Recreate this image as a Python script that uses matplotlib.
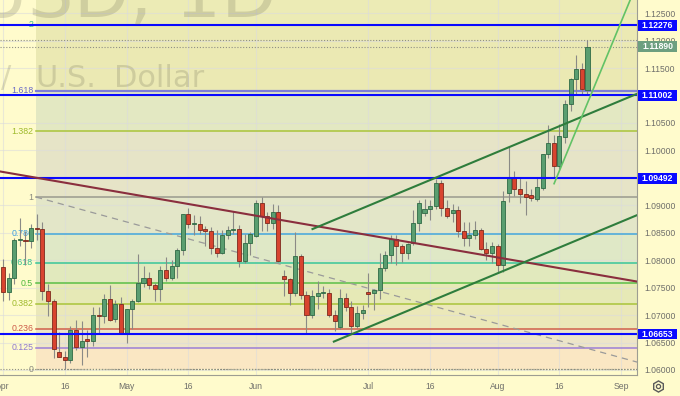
import numpy as np
import pandas as pd
import matplotlib
matplotlib.use('Agg')
import matplotlib.pyplot as plt
from matplotlib.patches import Rectangle
from matplotlib.lines import Line2D
from matplotlib.transforms import blended_transform_factory

plt.rcParams['font.family'] = ['Liberation Sans', 'DejaVu Sans']

# ---------------- data ----------------
dates = pd.bdate_range('2024-04-01', '2024-08-23')

opens = [1.0787, 1.0742, 1.0768, 1.0836, 1.0837, 1.0835, 1.0859, 1.0857, 1.0743, 1.0725,
         1.0633, 1.0624, 1.0618, 1.0672, 1.0642, 1.0656, 1.0653, 1.0701, 1.0698, 1.0729,
         1.0692, 1.0721, 1.0666, 1.0711, 1.0726, 1.0758, 1.0768, 1.0754, 1.0747, 1.0783,
         1.0767, 1.0789, 1.0819, 1.0884, 1.0866, 1.0866, 1.0856, 1.0853, 1.0822, 1.0814,
         1.0845, 1.0855, 1.0856, 1.0799, 1.0831, 1.0844, 1.0904, 1.0880, 1.0867, 1.0887,
         1.0772, 1.0765, 1.0740, 1.0808, 1.0737, 1.0700, 1.0734, 1.0740, 1.0741, 1.0701,
         1.0679, 1.0732, 1.0714, 1.0680, 1.0703, 1.0742, 1.0740, 1.0746, 1.0785, 1.0809,
         1.0838, 1.0825, 1.0813, 1.0831, 1.0867, 1.0886, 1.0893, 1.0898, 1.0940, 1.0895,
         1.0886, 1.0891, 1.0854, 1.0840, 1.0845, 1.0855, 1.0820, 1.0814, 1.0826, 1.0791,
         1.0922, 1.0951, 1.0929, 1.0921, 1.0919, 1.0911, 1.0931, 1.0993, 1.1013, 1.0972,
         1.1024, 1.1085, 1.1130, 1.1148, 1.1110]
highs = [1.0803, 1.0777, 1.0840, 1.0877, 1.0853, 1.0866, 1.0885, 1.0870, 1.0756, 1.0730,
         1.0669, 1.0634, 1.0680, 1.0691, 1.0690, 1.0673, 1.0714, 1.0715, 1.0738, 1.0755,
         1.0727, 1.0733, 1.0712, 1.0730, 1.0812, 1.0790, 1.0779, 1.0759, 1.0790, 1.0805,
         1.0800, 1.0822, 1.0885, 1.0895, 1.0882, 1.0880, 1.0863, 1.0860, 1.0855, 1.0855,
         1.0862, 1.0889, 1.0864, 1.0847, 1.0852, 1.0910, 1.0916, 1.0888, 1.0902, 1.0901,
         1.0782, 1.0768, 1.0852, 1.0812, 1.0744, 1.0745, 1.0762, 1.0753, 1.0748, 1.0709,
         1.0747, 1.0740, 1.0726, 1.0717, 1.0719, 1.0776, 1.0747, 1.0813, 1.0817, 1.0845,
         1.0845, 1.0829, 1.0832, 1.0891, 1.0910, 1.0911, 1.0910, 1.0948, 1.0946, 1.0910,
         1.0903, 1.0899, 1.0869, 1.0869, 1.0872, 1.0859, 1.0834, 1.0834, 1.0830, 1.0926,
         1.1008, 1.0962, 1.0952, 1.0945, 1.0929, 1.0949, 1.0994, 1.1047, 1.1028, 1.1048,
         1.1092, 1.1132, 1.1174, 1.1160, 1.1201]
lows = [1.0725, 1.0728, 1.0757, 1.0826, 1.0791, 1.0822, 1.0837, 1.0728, 1.0699, 1.0622,
        1.0623, 1.0601, 1.0612, 1.0637, 1.0610, 1.0623, 1.0644, 1.0666, 1.0685, 1.0690,
        1.0687, 1.0666, 1.0650, 1.0675, 1.0723, 1.0751, 1.0747, 1.0726, 1.0725, 1.0762,
        1.0764, 1.0767, 1.0809, 1.0858, 1.0846, 1.0848, 1.0825, 1.0811, 1.0805, 1.0812,
        1.0839, 1.0847, 1.0788, 1.0794, 1.0810, 1.0842, 1.0853, 1.0854, 1.0857, 1.0797,
        1.0734, 1.0719, 1.0735, 1.0730, 1.0668, 1.0695, 1.0712, 1.0731, 1.0697, 1.0671,
        1.0675, 1.0707, 1.0667, 1.0676, 1.0692, 1.0715, 1.0710, 1.0730, 1.0780, 1.0794,
        1.0791, 1.0797, 1.0802, 1.0827, 1.0853, 1.0880, 1.0874, 1.0893, 1.0881, 1.0877,
        1.0870, 1.0843, 1.0825, 1.0825, 1.0838, 1.0818, 1.0800, 1.0794, 1.0777, 1.0778,
        1.0906, 1.0917, 1.0905, 1.0882, 1.0907, 1.0908, 1.0927, 1.0987, 1.0952, 1.0966,
        1.1013, 1.1072, 1.1102, 1.1101, 1.1101]
closes = [1.0742, 1.0768, 1.0836, 1.0837, 1.0835, 1.0859, 1.0857, 1.0743, 1.0725, 1.0638,
          1.0624, 1.0618, 1.0672, 1.0642, 1.0652, 1.0653, 1.0701, 1.0698, 1.0729, 1.0691,
          1.0721, 1.0666, 1.0711, 1.0726, 1.0758, 1.0768, 1.0754, 1.0747, 1.0783, 1.0767,
          1.0789, 1.0819, 1.0884, 1.0866, 1.0867, 1.0855, 1.0853, 1.0822, 1.0814, 1.0845,
          1.0855, 1.0856, 1.0799, 1.0831, 1.0848, 1.0904, 1.0880, 1.0867, 1.0887, 1.0798,
          1.0765, 1.0740, 1.0808, 1.0737, 1.0700, 1.0735, 1.0740, 1.0742, 1.0700, 1.0690,
          1.0732, 1.0714, 1.0680, 1.0703, 1.0709, 1.0739, 1.0746, 1.0785, 1.0809, 1.0838,
          1.0825, 1.0813, 1.0830, 1.0867, 1.0904, 1.0893, 1.0898, 1.0940, 1.0895, 1.0880,
          1.0891, 1.0853, 1.0840, 1.0845, 1.0855, 1.0820, 1.0814, 1.0826, 1.0791, 1.0908,
          1.0951, 1.0929, 1.0921, 1.0916, 1.0913, 1.0933, 1.0993, 1.1013, 1.0972, 1.1027,
          1.1084, 1.1130, 1.1148, 1.1111, 1.1189]

tick_dates = ['2024-04-01', '2024-04-16', '2024-05-01', '2024-05-16', '2024-06-03',
              '2024-07-01', '2024-07-16', '2024-08-01', '2024-08-16', '2024-09-02']
tick_labels = ['Apr', '16', 'May', '16', 'Jun', 'Jul', '16', 'Aug', '16', 'Sep']

price_ticks = [1.060, 1.065, 1.070, 1.075, 1.080, 1.085, 1.090, 1.095, 1.100,
               1.105, 1.110, 1.115, 1.120, 1.125]
hidden_ticks = [1.095, 1.110]   # fully covered by level labels in the reference

# horizontal support/resistance levels (blue)
blue_levels = [1.12276, 1.11002, 1.09492, 1.06653]
last_price = 1.11890
range_high = 1.1201
range_low = 1.0601

# Fibonacci tool: anchors (bar index, price)
fib_anchor1 = (5.87, 1.0915)
fib_anchor0 = (117.6, 1.0601)
fib_levels = [0, 0.125, 0.236, 0.382, 0.5, 0.618, 0.786, 1, 1.382, 1.618, 2]
fib_labels = ['0', '0.125', '0.236', '0.382', '0.5', '0.618', '0.786', '1', '1.382', '1.618', '2']
fib_line_colors = ['#8a8a80', '#9c7fd6', '#d0604c', '#a9c43a', '#5bbf48', '#38c59a',
                   '#44a6dc', '#9a9a8e', '#a9c43a', '#7d7dd8', '#4fc08f']
fib_text_colors = ['#8a8a80', '#8f78d0', '#cc5a48', '#9fba2c', '#4cb83c', '#2fbf8d',
                   '#3b9ee0', '#8a8a80', '#9fba2c', '#6a6ac8', '#3cc08a']
fib_band_colors = ['#fae7c3', '#ede5c8', '#ebe8b9', '#e6e9b6', '#e1e9bd', '#dfe8c6',
                   '#e3e6c8', '#e6e4c7', '#e3e8c2', '#ebe9b3', '#ecebb5']

# trend lines: (bar index, price) anchors
maroon_line = [(0.0, 1.09607), (110.0, 1.07661)]
channel_upper = [(54.9, 1.0856), (112.8, 1.1103)]
channel_lower = [(58.7, 1.0651), (112.8, 1.0882)]
steep_line = [(98.0, 1.0938), (111.6, 1.1274)]

# ---------------- figure ----------------
BG = '#fffbcc'
fig = plt.figure(figsize=(6.8, 3.96), dpi=100, facecolor=BG)
ax = fig.add_axes([0, 21 / 396, 637 / 680, 375 / 396])
ax.set_facecolor(BG)
XL = (-0.534, 112.81)
YL = (1.059089, 1.127395)
ax.set_xlim(*XL)
ax.set_ylim(*YL)

xi = np.arange(len(dates))

# fib bands
p0 = fib_anchor0[1]
p1 = fib_anchor1[1]
fx0 = fib_anchor1[0]
lvl_prices = [p0 + l * (p1 - p0) for l in fib_levels]
band_edges = lvl_prices + [YL[1] + 0.01]
for i in range(len(band_edges) - 1):
    ax.fill_between([fx0, XL[1] + 5], band_edges[i], band_edges[i + 1],
                    color=fib_band_colors[i], lw=0, zorder=1)

# grid
for p in price_ticks:
    ax.axhline(p, color='#dcdcdc', alpha=0.6, lw=0.8, zorder=1.5)
tick_pos = [len(pd.bdate_range('2024-04-01', d)) - 1 for d in tick_dates]
for t in tick_pos:
    ax.axvline(t, color='#dcdcdc', alpha=0.6, lw=0.8, zorder=1.5)

# watermark
wm = dict(color='#5c5b48', alpha=0.2, family='DejaVu Sans', va='baseline', ha='left', zorder=1.8)
fig.text(-25 / 680, 1 - 17 / 396, 'USD, 1D', fontsize=52, **wm)
fig.text(1 / 680, 1 - 87 / 396, '/', fontsize=22, **wm)
fig.text(35 / 680, 1 - 87 / 396, 'U.S.', fontsize=22, **wm)
fig.text(114 / 680, 1 - 87 / 396, 'Dollar', fontsize=22, **wm)

# fib level lines + labels
for lv, pr, lc, tc, lab in zip(fib_levels, lvl_prices, fib_line_colors, fib_text_colors, fib_labels):
    if lv == 0:
        ax.plot([fx0, XL[1] + 5], [pr, pr], color=lc, lw=0.9, ls=(0, (1, 1.5)), zorder=2)
    else:
        lw = 1.6 if lv == 1.618 else 1.1
        ax.plot([fx0, XL[1] + 5], [pr, pr], color=lc, lw=lw, zorder=2)
    ax.text(fx0 - 0.5, pr, lab, color=tc, fontsize=6.3, ha='right', va='center', zorder=2)

# fib dashed diagonal
ax.plot([fib_anchor1[0], fib_anchor0[0]], [fib_anchor1[1], fib_anchor0[1]],
        color='#9a9a9a', lw=0.9, ls=(0, (5, 4)), zorder=2.2)

# range high/low and last price dotted
for p in [range_high, last_price, range_low]:
    ax.axhline(p, color='#8f8f85', lw=0.8, ls=(0, (1, 1.6)), zorder=2.3)

# candles
o = np.array(opens); h = np.array(highs); l = np.array(lows); c = np.array(closes)
up = c >= o
ax.vlines(xi, l, h, color='#8a8a86', lw=0.8, zorder=3)
bottoms = np.minimum(o, c)
heights = np.maximum(np.abs(c - o), 0.00018)
ax.bar(xi[up], heights[up], bottom=bottoms[up], width=0.72, color='#5a9e70',
       edgecolor='#2f6a45', linewidth=0.6, zorder=4)
ax.bar(xi[~up], heights[~up], bottom=bottoms[~up], width=0.72, color='#d8442f',
       edgecolor='#7d2a1d', linewidth=0.6, zorder=4)

# blue levels
for p in blue_levels:
    ax.axhline(p, color='#0a0aff', lw=1.5, zorder=5)

# trend lines
ax.axline(maroon_line[0], maroon_line[1], color='#8a2e3e', lw=1.5, zorder=5)


def ray(pts, color, lw):
    (xa, ya), (xb, yb) = pts
    s = (yb - ya) / (xb - xa)
    xe = XL[1] + 10
    ax.plot([xa, xe], [ya, ya + s * (xe - xa)], color=color, lw=lw, zorder=5,
            solid_capstyle='butt')


ray(channel_upper, '#2e7d3c', 1.5)
ray(channel_lower, '#2e7d3c', 1.5)
ray(steep_line, '#62c266', 1.2)

# axes styling
for s in ['top', 'left']:
    ax.spines[s].set_visible(False)
for s in ['right', 'bottom']:
    ax.spines[s].set_color('#9d9d92')
    ax.spines[s].set_linewidth(0.8)
    ax.spines[s].set_zorder(6)

ax.yaxis.tick_right()
ax.set_yticks(price_ticks)
ax.set_yticklabels(['' if any(abs(p - q) < 1e-9 for q in hidden_ticks) else f'{p:.5f}'
                    for p in price_ticks])
ax.tick_params(axis='y', length=0, pad=5, labelsize=6.2, labelcolor='#6e6e6a')
ax.set_xticks(tick_pos)
ax.set_xticklabels(tick_labels)
ax.tick_params(axis='x', length=0, pad=5, labelsize=6.2, labelcolor='#6e6e6a')

# price labels on the right axis
bt = blended_transform_factory(ax.transAxes, ax.transData)
box_h = 10.5 / 5490
for p, fc in [(blue_levels[0], '#0a0aff'), (last_price, '#6d9f7f'),
              (blue_levels[1], '#0a0aff'), (blue_levels[2], '#0a0aff'),
              (blue_levels[3], '#0a0aff')]:
    ax.add_patch(Rectangle((638 / 637, p - box_h / 2), 39 / 637, box_h, transform=bt,
                           facecolor=fc, edgecolor='none', clip_on=False, zorder=10))
    ax.text(657.5 / 637, p, f'{p:.5f}', transform=bt, color='white', fontsize=6.2,
            fontweight='bold', ha='center', va='center', clip_on=False, zorder=11)

# settings gear icon
gx, gy = 658 / 680, 1 - 386 / 396
fig.add_artist(Line2D([gx], [gy], marker='h', markersize=8, mfc='none', mec='#5a5a5a',
                      mew=1.0, transform=fig.transFigure))
fig.add_artist(Line2D([gx], [gy], marker='o', markersize=3, mfc='none', mec='#5a5a5a',
                      mew=0.9, transform=fig.transFigure))

fig.savefig('out.png', dpi=100, facecolor=BG)
